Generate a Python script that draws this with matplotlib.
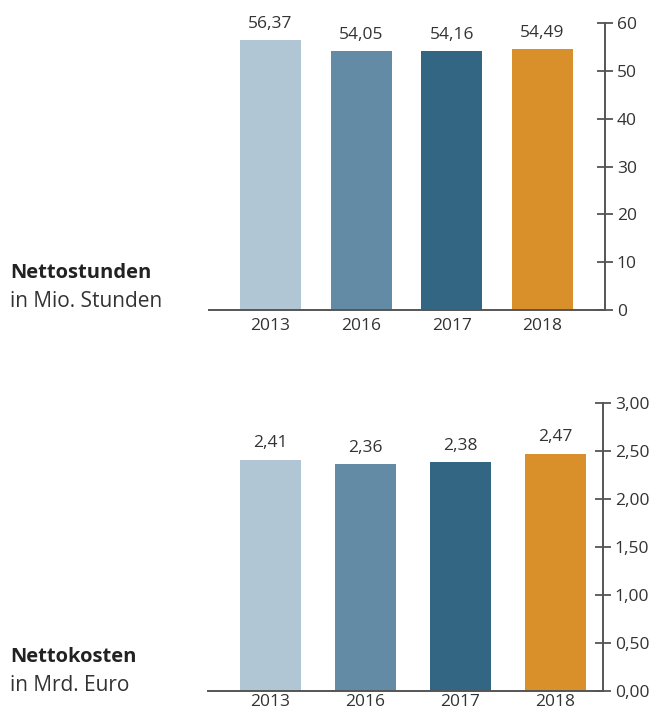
import matplotlib.pyplot as plt

plt.rcParams['font.family'] = ['Open Sans', 'DejaVu Sans']

# Data
years = ['2013', '2016', '2017', '2018']
stunden = [56.37, 54.05, 54.16, 54.49]
kosten = [2.41, 2.36, 2.38, 2.47]
bar_colors = ['#b0c6d4', '#648ba5', '#326682', '#d9902b']

stunden_ticks = [0, 10, 20, 30, 40, 50, 60]
kosten_ticks = [0, 0.5, 1.0, 1.5, 2.0, 2.5, 3.0]

text_col = '#333333'
axis_col = '#555555'

fig = plt.figure(figsize=(6.56, 7.13), dpi=100)


def fmt(v, nd):
    return f'{v:.{nd}f}'.replace('.', ',')


def draw_panel(rect, values, ticks, nd_val, nd_tick, xlim, width, title, subtitle, title_y, xpad):
    ax = fig.add_axes(rect)
    x = range(len(values))
    ax.bar(x, values, width=width, color=bar_colors)
    ax.set_xlim(*xlim)
    ax.set_ylim(ticks[0], ticks[-1])
    for xi, v in zip(x, values):
        ax.annotate(fmt(v, nd_val), (xi, v), xytext=(0, 6), textcoords='offset points',
                    ha='center', va='bottom', fontsize=12.5, color=text_col)
    ax.set_xticks(list(x))
    ax.set_xticklabels(years, fontsize=12.5, color=text_col)
    ax.tick_params(axis='x', length=0, pad=xpad)
    ax.yaxis.tick_right()
    ax.set_yticks(ticks)
    ax.set_yticklabels([fmt(t, nd_tick) for t in ticks], fontsize=12.5, color=text_col)
    ax.tick_params(axis='y', direction='inout', length=11, width=1.3, color=axis_col, pad=3)
    for s in ['top', 'left']:
        ax.spines[s].set_visible(False)
    for s in ['bottom', 'right']:
        ax.spines[s].set_color(axis_col)
        ax.spines[s].set_linewidth(1.4)
    fig.text(0.015, title_y, title, fontsize=14.5, fontweight='bold', color='#222222', va='center')
    fig.text(0.015, title_y - 0.04, subtitle, fontsize=15, color=text_col, va='center')
    return ax


draw_panel([0.3186, 0.5652, 0.6037, 0.4025], stunden, stunden_ticks, 2, 0,
           (-0.678, 3.689), 0.67, 'Nettostunden', 'in Mio. Stunden', 1 - 273 / 713, 6)
draw_panel([0.3171, 0.0309, 0.602, 0.404], kosten, kosten_ticks, 2, 2,
           (-0.658, 3.5), 0.642, 'Nettokosten', 'in Mrd. Euro', 1 - 657 / 713, 2.5)

fig.savefig('out.png', dpi=100)
